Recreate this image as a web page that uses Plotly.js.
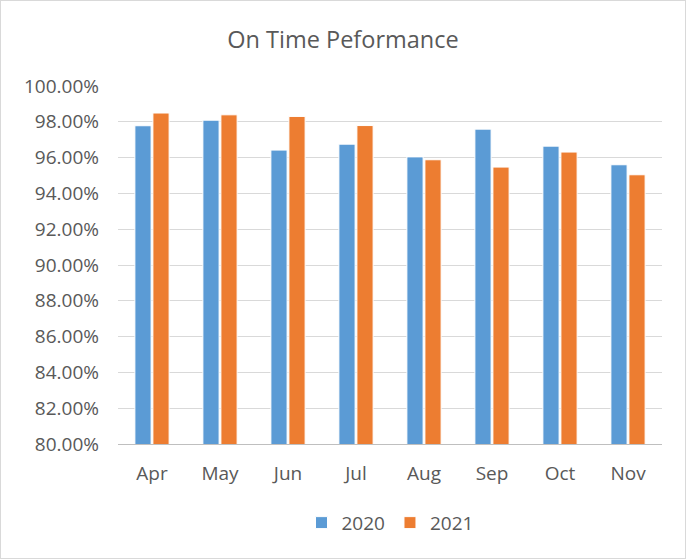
<!DOCTYPE html>
<html>
<head>
<meta charset="utf-8">
<script src="https://cdn.plot.ly/plotly-3.0.1.min.js"></script>
<style>
html,body{margin:0;padding:0;background:#fff;}
#chart{width:686px;height:559px;box-sizing:border-box;border:1px solid #D9D9D9;}
</style>
</head>
<body>
<div id="chart"></div>
<script>
const months = ["Apr", "May", "Jun", "Jul", "Aug", "Sep", "Oct", "Nov"];
const values2020 = [0.9778, 0.9809, 0.9642, 0.9675, 0.9604, 0.9759, 0.9664, 0.9560];
const values2021 = [0.9849, 0.9839, 0.9830, 0.9779, 0.9588, 0.9547, 0.9631, 0.9504];
const seriesNames = ["2020", "2021"];

const font = "Open Sans, sans-serif";
const traces = [
  {type: "bar", name: seriesNames[0], x: months, y: values2020,
   marker: {color: "#5B9BD5", line: {color: "#FFFFFF", width: 1}}, hoverinfo: "none"},
  {type: "bar", name: seriesNames[1], x: months, y: values2021,
   marker: {color: "#ED7D31", line: {color: "#FFFFFF", width: 1}}, hoverinfo: "none"}
];
const layout = {
  width: 684, height: 557,
  margin: {l: 117, r: 23, t: 85, b: 114},
  paper_bgcolor: "#FFFFFF", plot_bgcolor: "#FFFFFF",
  font: {family: font, color: "#595959", size: 19},
  title: {text: "On Time Peformance", font: {family: font, size: 23.5, color: "#595959"},
          x: 0.5, xanchor: "center", y: 0.93, yanchor: "middle"},
  barmode: "group", bargap: 0.47, bargroupgap: 0.1,
  xaxis: {showgrid: false, showline: true, linecolor: "#BFBFBF", linewidth: 1,
          ticks: "", ticklabelstandoff: 12, tickfont: {size: 19, color: "#595959"}, fixedrange: true},
  yaxis: {range: [0.8, 1.0], dtick: 0.02, tickformat: ".2%", showgrid: true,
          gridcolor: "#D9D9D9", gridwidth: 1, zeroline: false, showline: false,
          ticks: "", ticklen: 0, ticklabelstandoff: 18, tickfont: {size: 19, color: "#595959"}, fixedrange: true},
  showlegend: true,
  legend: {orientation: "h", x: 0.5, xanchor: "center", y: -0.22, yanchor: "middle",
           font: {size: 19, color: "#595959"}, itemwidth: 30, traceorder: "normal"}
};
Plotly.newPlot("chart", traces, layout, {displayModeBar: false, staticPlot: true});
</script>
</body>
</html>
